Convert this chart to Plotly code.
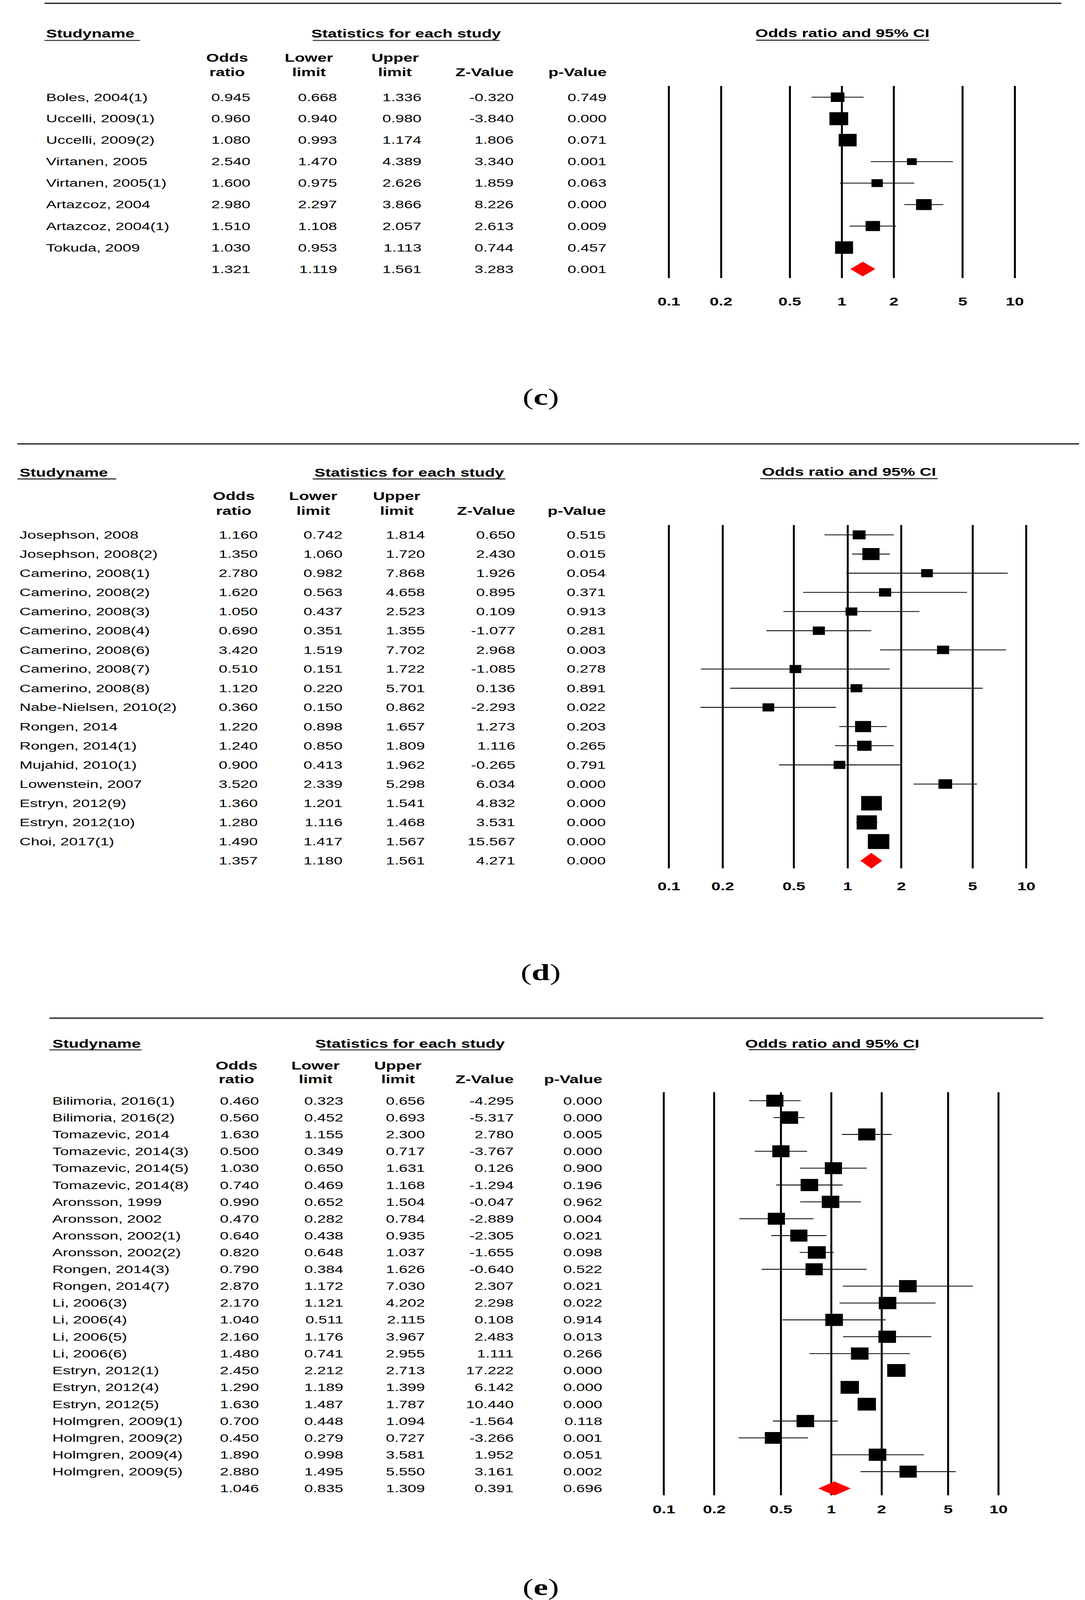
import plotly.graph_objects as go

W, H = 2778, 5893

# ---------------- data ----------------
tick_vals = [0.1, 0.2, 0.5, 1, 2, 5, 10]
tick_text = ["0.1", "0.2", "0.5", "1", "2", "5", "10"]

# panel (c)
c_names = ["Boles, 2004(1)", "Uccelli, 2009(1)", "Uccelli, 2009(2)", "Virtanen, 2005",
           "Virtanen, 2005(1)", "Artazcoz, 2004", "Artazcoz, 2004(1)", "Tokuda, 2009"]
c_or = [0.945, 0.960, 1.080, 2.540, 1.600, 2.980, 1.510, 1.030]
c_lo = [0.668, 0.940, 0.993, 1.470, 0.975, 2.297, 1.108, 0.953]
c_hi = [1.336, 0.980, 1.174, 4.389, 2.626, 3.866, 2.057, 1.113]
c_z = [-0.320, -3.840, 1.806, 3.340, 1.859, 8.226, 2.613, 0.744]
c_p = [0.749, 0.000, 0.071, 0.001, 0.063, 0.000, 0.009, 0.457]
c_sum = [1.321, 1.119, 1.561, 3.283, 0.001]

# panel (d)
d_names = ["Josephson, 2008", "Josephson, 2008(2)", "Camerino, 2008(1)", "Camerino, 2008(2)",
           "Camerino, 2008(3)", "Camerino, 2008(4)", "Camerino, 2008(6)", "Camerino, 2008(7)",
           "Camerino, 2008(8)", "Nabe-Nielsen, 2010(2)", "Rongen, 2014", "Rongen, 2014(1)",
           "Mujahid, 2010(1)", "Lowenstein, 2007", "Estryn, 2012(9)", "Estryn, 2012(10)",
           "Choi, 2017(1)"]
d_or = [1.160, 1.350, 2.780, 1.620, 1.050, 0.690, 3.420, 0.510, 1.120, 0.360, 1.220, 1.240,
        0.900, 3.520, 1.360, 1.280, 1.490]
d_lo = [0.742, 1.060, 0.982, 0.563, 0.437, 0.351, 1.519, 0.151, 0.220, 0.150, 0.898, 0.850,
        0.413, 2.339, 1.201, 1.116, 1.417]
d_hi = [1.814, 1.720, 7.868, 4.658, 2.523, 1.355, 7.702, 1.722, 5.701, 0.862, 1.657, 1.809,
        1.962, 5.298, 1.541, 1.468, 1.567]
d_z = [0.650, 2.430, 1.926, 0.895, 0.109, -1.077, 2.968, -1.085, 0.136, -2.293, 1.273, 1.116,
       -0.265, 6.034, 4.832, 3.531, 15.567]
d_p = [0.515, 0.015, 0.054, 0.371, 0.913, 0.281, 0.003, 0.278, 0.891, 0.022, 0.203, 0.265,
       0.791, 0.000, 0.000, 0.000, 0.000]
d_sum = [1.357, 1.180, 1.561, 4.271, 0.000]

# panel (e)
e_names = ["Bilimoria, 2016(1)", "Bilimoria, 2016(2)", "Tomazevic, 2014", "Tomazevic, 2014(3)",
           "Tomazevic, 2014(5)", "Tomazevic, 2014(8)", "Aronsson, 1999", "Aronsson, 2002",
           "Aronsson, 2002(1)", "Aronsson, 2002(2)", "Rongen, 2014(3)", "Rongen, 2014(7)",
           "Li, 2006(3)", "Li, 2006(4)", "Li, 2006(5)", "Li, 2006(6)", "Estryn, 2012(1)",
           "Estryn, 2012(4)", "Estryn, 2012(5)", "Holmgren, 2009(1)", "Holmgren, 2009(2)",
           "Holmgren, 2009(4)", "Holmgren, 2009(5)"]
e_or = [0.460, 0.560, 1.630, 0.500, 1.030, 0.740, 0.990, 0.470, 0.640, 0.820, 0.790, 2.870,
        2.170, 1.040, 2.160, 1.480, 2.450, 1.290, 1.630, 0.700, 0.450, 1.890, 2.880]
e_lo = [0.323, 0.452, 1.155, 0.349, 0.650, 0.469, 0.652, 0.282, 0.438, 0.648, 0.384, 1.172,
        1.121, 0.511, 1.176, 0.741, 2.212, 1.189, 1.487, 0.448, 0.279, 0.998, 1.495]
e_hi = [0.656, 0.693, 2.300, 0.717, 1.631, 1.168, 1.504, 0.784, 0.935, 1.037, 1.626, 7.030,
        4.202, 2.115, 3.967, 2.955, 2.713, 1.399, 1.787, 1.094, 0.727, 3.581, 5.550]
e_z = [-4.295, -5.317, 2.780, -3.767, 0.126, -1.294, -0.047, -2.889, -2.305, -1.655, -0.640,
       2.307, 2.298, 0.108, 2.483, 1.111, 17.222, 6.142, 10.440, -1.564, -3.266, 1.952, 3.161]
e_p = [0.000, 0.000, 0.005, 0.000, 0.900, 0.196, 0.962, 0.004, 0.021, 0.098, 0.522, 0.021,
       0.022, 0.914, 0.013, 0.266, 0.000, 0.000, 0.000, 0.118, 0.001, 0.051, 0.002]
e_sum = [1.046, 0.835, 1.309, 0.391, 0.696]

# ---------------- styling / layout (pixels) ----------------
c_box = [35, 48, 46, 25, 29, 40, 37, 46]
d_box = [33, 44, 30, 31, 30, 31, 31, 30, 30, 30, 41, 37, 30, 35, 53, 52, 55]
e_box = [44, 46, 44, 44, 44, 45, 45, 44, 44, 46, 44, 45, 45, 45, 45, 45, 47, 47, 47, 45, 43, 45, 44]

panels = [
    dict(label="c", names=c_names, orr=c_or, lo=c_lo, hi=c_hi, z=c_z, p=c_p, s=c_sum, box=c_box,
         rule=(94, 2732, 12), name_x=96, study_ul=(94, 342), stats_ul=(790, 1275), hdr_y=124, ul_y=149,
         colhdr_y=(214, 265), col_ctr=(568, 780, 1003), row0=358, drow=79.1,
         col_r=(630, 855, 1074, 1313, 1554), fx=(1714, 2611), fy=(316, 1025), standoff=57,
         title_y=122, title_ul=(1940, 2389), cap=(1381, 1462), dia=27),
    dict(label="d", names=d_names, orr=d_or, lo=d_lo, hi=d_hi, z=d_z, p=d_p, s=d_sum, box=d_box,
         rule=(24, 2778, 1635), name_x=27, study_ul=(24, 280), stats_ul=(790, 1290), hdr_y=1741, ul_y=1764,
         colhdr_y=(1828, 1881), col_ctr=(585, 791, 1008), row0=1970, drow=70.6,
         col_r=(649, 869, 1083, 1317, 1552), fx=(1714, 2641), fy=(1934, 3198), standoff=38,
         title_y=1738, title_ul=(1951, 2411), cap=(1381, 3582), dia=29),
    dict(label="e", names=e_names, orr=e_or, lo=e_lo, hi=e_hi, z=e_z, p=e_p, s=e_sum, box=e_box,
         rule=(107, 2685, 3750), name_x=112, study_ul=(107, 346), stats_ul=(808, 1277), hdr_y=3844, ul_y=3867,
         colhdr_y=(3924, 3974), col_ctr=(592, 797, 1011), row0=4054, drow=62.1,
         col_r=(652, 871, 1083, 1313, 1543), fx=(1701, 2569), fy=(4022, 5507), standoff=24,
         title_y=3843, title_ul=(1921, 2354), cap=(1381, 5847), dia=26),
]

SANS = "Liberation Sans, Arial, sans-serif"
SERIF = "Liberation Serif, Times New Roman, serif"
BODY = 40
HDR = 42


def px(x):
    return x / W


def py(y):
    return 1 - y / H


fig = go.Figure()
annotations = []
shapes = []
layout_axes = {}

for k, P in enumerate(panels, start=1):
    xa = "x" if k == 1 else f"x{k}"
    ya = "y" if k == 1 else f"y{k}"
    n = len(P["names"])

    fx0, fx1 = P["fx"]
    dec = (fx1 - fx0) / 2.0
    pad = 0.02
    layout_axes["xaxis" if k == 1 else f"xaxis{k}"] = dict(
        type="log", range=[-1 - pad, 1 + pad],
        domain=[px(fx0 - pad * dec), px(fx1 + pad * dec)],
        anchor=ya, tickvals=tick_vals, ticktext=[f"<b>{t}</b>" for t in tick_text],
        tickfont=dict(family=SANS, size=HDR, color="black"),
        showgrid=True, gridcolor="black", gridwidth=5, zeroline=False, showline=False,
        ticks="", ticklabelstandoff=P["standoff"], fixedrange=True,
    )
    fy0, fy1 = P["fy"]
    r_top = (fy0 - P["row0"]) / P["drow"]
    r_bot = (fy1 - P["row0"]) / P["drow"]
    layout_axes["yaxis" if k == 1 else f"yaxis{k}"] = dict(
        range=[r_bot, r_top], domain=[py(fy1), py(fy0)], anchor=xa,
        showgrid=False, zeroline=False, showline=False, showticklabels=False, ticks="",
        fixedrange=True,
    )

    # whiskers
    wx, wy = [], []
    for i in range(n):
        wx += [P["lo"][i], P["hi"][i], None]
        wy += [i, i, None]
    fig.add_trace(go.Scatter(x=wx, y=wy, mode="lines", line=dict(color="black", width=3),
                             xaxis=xa, yaxis=ya, hoverinfo="skip", showlegend=False))
    # boxes (opaque)
    fig.add_trace(go.Scatter(x=P["orr"], y=list(range(n)), mode="markers",
                             marker=dict(symbol="square", size=P["box"], color="black",
                                         opacity=1, line=dict(width=0)),
                             opacity=1, xaxis=xa, yaxis=ya, showlegend=False))
    # summary diamond
    s_or, s_lo, s_hi = P["s"][0], P["s"][1], P["s"][2]
    h = P["dia"] / P["drow"]
    fig.add_trace(go.Scatter(x=[s_lo, s_or, s_hi, s_or, s_lo], y=[n, n - h, n, n + h, n],
                             mode="lines", fill="toself", fillcolor="#ff0000",
                             line=dict(color="#ff0000", width=0),
                             xaxis=xa, yaxis=ya, hoverinfo="skip", showlegend=False))

    # top rule
    r0, r1, ry = P["rule"]
    shapes.append(dict(type="line", xref="paper", yref="paper", x0=px(r0), x1=px(r1),
                       y0=py(ry), y1=py(ry), line=dict(color="black", width=4)))
    hdr_font = dict(family=SANS, size=HDR, color="black")
    annotations.append(dict(text="<b>Studyname</b>", xref="paper", yref="paper",
                            x=px(P["name_x"]), y=py(P["hdr_y"]), xanchor="left", yanchor="middle",
                            showarrow=False, font=hdr_font))
    shapes.append(dict(type="line", xref="paper", yref="paper", x0=px(P["study_ul"][0]),
                       x1=px(P["study_ul"][1]), y0=py(P["ul_y"]), y1=py(P["ul_y"]),
                       line=dict(color="black", width=3)))
    sx = (P["stats_ul"][0] + P["stats_ul"][1]) / 2
    annotations.append(dict(text="<b>Statistics for each study</b>", xref="paper", yref="paper",
                            x=px(sx), y=py(P["hdr_y"]), xanchor="center", yanchor="middle",
                            showarrow=False, font=hdr_font))
    shapes.append(dict(type="line", xref="paper", yref="paper", x0=px(P["stats_ul"][0]),
                       x1=px(P["stats_ul"][1]), y0=py(P["ul_y"]), y1=py(P["ul_y"]),
                       line=dict(color="black", width=3)))
    tx = (P["title_ul"][0] + P["title_ul"][1]) / 2
    annotations.append(dict(text="<b>Odds ratio and 95% CI</b>", xref="paper", yref="paper",
                            x=px(tx), y=py(P["title_y"]), xanchor="center", yanchor="middle",
                            showarrow=False, font=hdr_font))
    shapes.append(dict(type="line", xref="paper", yref="paper", x0=px(P["title_ul"][0]),
                       x1=px(P["title_ul"][1]), y0=py(P["ul_y"] - 1), y1=py(P["ul_y"] - 1),
                       line=dict(color="black", width=3)))
    y1h, y2h = P["colhdr_y"]
    for cx, (l1, l2) in zip(P["col_ctr"], [("Odds", "ratio"), ("Lower", "limit"), ("Upper", "limit")]):
        for txt, yy in ((l1, y1h), (l2, y2h)):
            annotations.append(dict(text=f"<b>{txt}</b>", xref="paper", yref="paper", x=px(cx),
                                    y=py(yy), xanchor="center", yanchor="middle", showarrow=False,
                                    font=hdr_font))
    for txt, rx in (("Z-Value", P["col_r"][3]), ("p-Value", P["col_r"][4])):
        annotations.append(dict(text=f"<b>{txt}</b>", xref="paper", yref="paper", x=px(rx),
                                y=py(y2h), xanchor="right", yanchor="middle", showarrow=False,
                                font=hdr_font))

    body_font = dict(family=SANS, size=BODY, color="black")
    for i in range(n):
        annotations.append(dict(text=P["names"][i], xref="paper", yref=ya, x=px(P["name_x"]), y=i,
                                xanchor="left", yanchor="middle", showarrow=False, font=body_font))
        vals = [P["orr"][i], P["lo"][i], P["hi"][i], P["z"][i], P["p"][i]]
        for v, rx in zip(vals, P["col_r"]):
            annotations.append(dict(text=f"{v:.3f}", xref="paper", yref=ya, x=px(rx), y=i,
                                    xanchor="right", yanchor="middle", showarrow=False,
                                    font=body_font))
    for v, rx in zip(P["s"], P["col_r"]):
        annotations.append(dict(text=f"{v:.3f}", xref="paper", yref=ya, x=px(rx), y=n,
                                xanchor="right", yanchor="middle", showarrow=False, font=body_font))

    annotations.append(dict(text=f"(<b>{P['label']}</b>)", xref="paper", yref="paper",
                            x=px(P["cap"][0]), y=py(P["cap"][1]), xanchor="center",
                            yanchor="middle", showarrow=False,
                            font=dict(family=SERIF, size=84, color="black")))

fig.update_layout(
    width=W, height=H, margin=dict(l=0, r=0, t=0, b=0),
    paper_bgcolor="white", plot_bgcolor="white", showlegend=False,
    annotations=annotations, shapes=shapes, **layout_axes,
)

# Fit the fixed 2778x5893 figure into whatever viewport the page is shown in
post = """
document.documentElement.style.margin='0';
document.body.style.margin='0';
document.documentElement.style.overflow='hidden';
document.body.style.overflow='hidden';
var gd = document.getElementById('{plot_id}');
var vw = window.innerWidth || document.documentElement.clientWidth;
var vh = window.innerHeight || document.documentElement.clientHeight;
if (vw > 0 && vh > 0) {
  var sx = vw / 2778, sy = vh / 5893;
  if (Math.abs(sx - 1) > 0.001 || Math.abs(sy - 1) > 0.001) {
    gd.style.transformOrigin = '0 0';
    gd.style.transform = 'scale(' + sx + ',' + sy + ')';
  }
}
"""

fig.write_html("out.html", config={"displayModeBar": False}, post_script=post)
